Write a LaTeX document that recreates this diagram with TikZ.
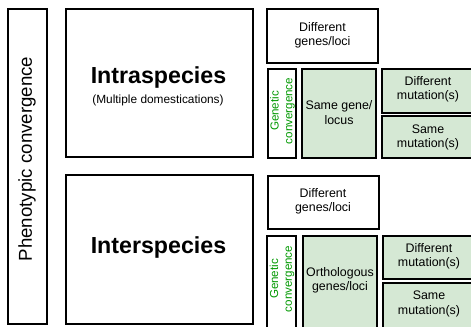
\documentclass[tikz,border=0pt]{standalone}
\usepackage{fontspec}
\setmainfont{Liberation Sans}
\usetikzlibrary{fit}
\definecolor{paleGreen}{HTML}{D5E8D4}
\definecolor{genGreen}{HTML}{009900}
\begin{document}
\begin{tikzpicture}[x=0.75pt,y=-0.75pt,
  box/.style={draw=black, line width=0.85pt, inner sep=0pt, fill=white},
  greenbox/.style={box, fill=paleGreen},
  lbl/.style={font=\fontsize{9.3}{10.6}\selectfont, align=center, inner sep=0pt},
  genlbl/.style={lbl, text=genGreen, rotate=90, font=\fontsize{8.7}{10.2}\selectfont},
  title/.style={font=\fontsize{17.4}{20}\selectfont\bfseries, inner sep=0pt}]
\useasboundingbox (0,0) rectangle (471,326);
\clip (0,0) rectangle (471,326);

% outer column
\node[box, fit={(8,9) (47,324)}] (pheno) {};
\node[lbl, rotate=90, font=\fontsize{14}{16}\selectfont] (phenoT) at (27,159) {Phenotypic convergence};

% intraspecies block
\node[box, fit={(66,9) (253,157)}] (intra) {};
\node[title] (intraT) at (158.5,77) {Intraspecies};
\node[lbl, font=\fontsize{8.9}{10.5}\selectfont] (intraS) at (158,100) {(Multiple domestications)};

\node[box, fit={(267,9) (378,63)}] (diffA) {};
\node[lbl] (diffAT) at (322.5,35) {Different\\genes/loci};
\node[box, fit={(268,69) (296,158)}] (genA) {};
\node[genlbl] (genAT) at (282.5,111) {Genetic\\convergence};
\node[greenbox, fit={(302,69) (376,158)}] (sameA) {};
\node[lbl] (sameAT) at (339,112.5) {Same gene/\\locus};
\node[greenbox, fit={(382,69) (476,113)}] (mutDA) {};
\node[lbl] (mutDAT) at (428,89.5) {Different\\mutation(s)};
\node[greenbox, fit={(382,116) (476,158)}] (mutSA) {};
\node[lbl] (mutSAT) at (428,137.5) {Same\\mutation(s)};

% interspecies block
\node[box, fit={(66,175) (253,324)}] (inter) {};
\node[title] (interT) at (158.5,247) {Interspecies};

\node[box, fit={(268,176) (379,229)}] (diffB) {};
\node[lbl] (diffBT) at (323,201.5) {Different\\genes/loci};
\node[box, fit={(267,236) (296,332)}] (genB) {};
\node[genlbl] (genBT) at (282,279) {Genetic\\convergence};
\node[greenbox, fit={(303,236) (377,332)}] (orthoB) {};
\node[lbl] (orthoBT) at (340,280) {Orthologous\\genes/loci};
\node[greenbox, fit={(383,236) (476,279)}] (mutDB) {};
\node[lbl] (mutDBT) at (429,256.5) {Different\\mutation(s)};
\node[greenbox, fit={(383,283) (476,332)}] (mutSB) {};
\node[lbl] (mutSBT) at (429,304) {Same\\mutation(s)};
\end{tikzpicture}
\end{document}
